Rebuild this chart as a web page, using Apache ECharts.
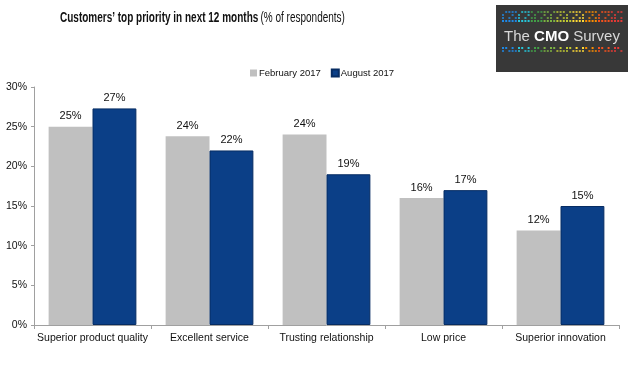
<!DOCTYPE html>
<html><head><meta charset="utf-8">
<script src="https://cdn.jsdelivr.net/npm/echarts@6/dist/echarts.min.js"></script>
<style>html,body{margin:0;padding:0;background:#fff}#c{width:630px;height:365px}</style>
</head><body><div id="c"></div>
<script>
const categories = ['Superior product quality','Excellent service','Trusting relationship','Low price','Superior innovation'];
const feb2017 = [25, 23.8, 24, 16, 11.9];
const aug2017 = [27.3, 22, 19, 17, 15];
const seriesNames = ['February 2017','August 2017'];
const yTicks = [0,5,10,15,20,25,30];
const titleBold = 'Customers\u2019 top priority in next 12 months';
const titleNormal = '(% of respondents)';

const FONT = '"Liberation Sans",Arial,sans-serif';
const chart = echarts.init(document.getElementById('c'), null, {renderer:'canvas'});

// logo decoration dots (fixed pattern)
const dotColors = ['#1e88e5','#26c6da','#43a047','#7cb342','#c0ca33','#fdd835','#fb8c00','#f4511e','#e53935'];
const pattern = [0,2,1,3,0,2,4,1,0,3,2,1,4,0,2];
const logoDots = [];
for (let band = 0; band < 2; band++) {
  const y0 = band === 0 ? 11 : 47;
  for (let i = 0; i < 38; i++) {
    const x = 502 + i * 3.2;
    const c = dotColors[Math.floor(i / 38 * dotColors.length)];
    for (let r = 0; r < 4; r++) {
      const p = pattern[(i * 3 + r * 5 + band * 7) % pattern.length];
      if (band === 0 ? (p >= 3 - r) : (p >= r + 1)) {
        logoDots.push({type:'rect', shape:{x:x, y:y0 + r * 3, width:2, height:2}, style:{fill:c, opacity: r === (band===0?3:0) ? 1 : 0.75}});
      }
    }
  }
}

chart.setOption({
  animation:false,
  backgroundColor:'#ffffff',
  legend:{
    data:seriesNames, left:245, top:63, itemWidth:7, itemHeight:7, itemGap:10,
    icon:'rect',
    textStyle:{fontFamily:FONT, fontSize:9.5, color:'#111', padding:[0,0,0,-3]}
  },
  grid:{left:34, right:11, top:87, bottom:40},
  xAxis:{
    type:'category', data:categories,
    axisLine:{lineStyle:{color:'#a0a0a0'}},
    axisTick:{show:true, length:4, lineStyle:{color:'#a0a0a0'}},
    axisLabel:{interval:0, fontFamily:FONT, fontSize:10.5, color:'#111', margin:8}
  },
  yAxis:{
    type:'value', min:0, max:30, interval:5,
    axisLine:{show:true, lineStyle:{color:'#a0a0a0'}},
    axisTick:{show:true, length:3, lineStyle:{color:'#a0a0a0'}},
    splitLine:{show:false},
    axisLabel:{fontFamily:FONT, fontSize:10.5, color:'#111', margin:7,
      formatter:v => yTicks.includes(v) ? v + '%' : ''}
  },
  series:[
    {name:seriesNames[0], type:'bar', data:feb2017, barGap:'0%', barCategoryGap:'25%',
     itemStyle:{color:'#c0c0c0'},
     label:{show:true, position:'top', distance:5, fontFamily:FONT, fontSize:11, color:'#111',
       formatter:p => Math.round(p.value) + '%'}},
    {name:seriesNames[1], type:'bar', data:aug2017, barGap:'0%', barCategoryGap:'25%',
     itemStyle:{color:'#0b3f87', borderColor:'#062c63', borderWidth:1},
     label:{show:true, position:'top', distance:5, fontFamily:FONT, fontSize:11, color:'#111',
       formatter:p => Math.round(p.value) + '%'}}
  ],
  graphic:[
    {type:'text', x:60, y:18, scaleX:0.645, originX:0, originY:0, style:{
      text:'{b|' + titleBold + '} {n|' + titleNormal + '}', align:'left', verticalAlign:'middle',
      rich:{b:{fontFamily:FONT, fontSize:15.5, fontWeight:'bold', fill:'#111'},
            n:{fontFamily:FONT, fontSize:15.5, fill:'#111'}}
    }},
    {type:'group', children:[
      {type:'rect', shape:{x:496, y:5, width:132, height:67}, style:{fill:'#383838'}},
      ...logoDots,
      {type:'text', x:562, y:37, style:{
        text:'{t|The }{c|CMO}{t| Survey}', align:'center', verticalAlign:'middle',
        rich:{t:{fontFamily:FONT, fontSize:15, fill:'#d8d8d8'},
              c:{fontFamily:FONT, fontSize:15, fontWeight:'bold', fill:'#ffffff'}}
      }}
    ]}
  ]
});
</script></body></html>
